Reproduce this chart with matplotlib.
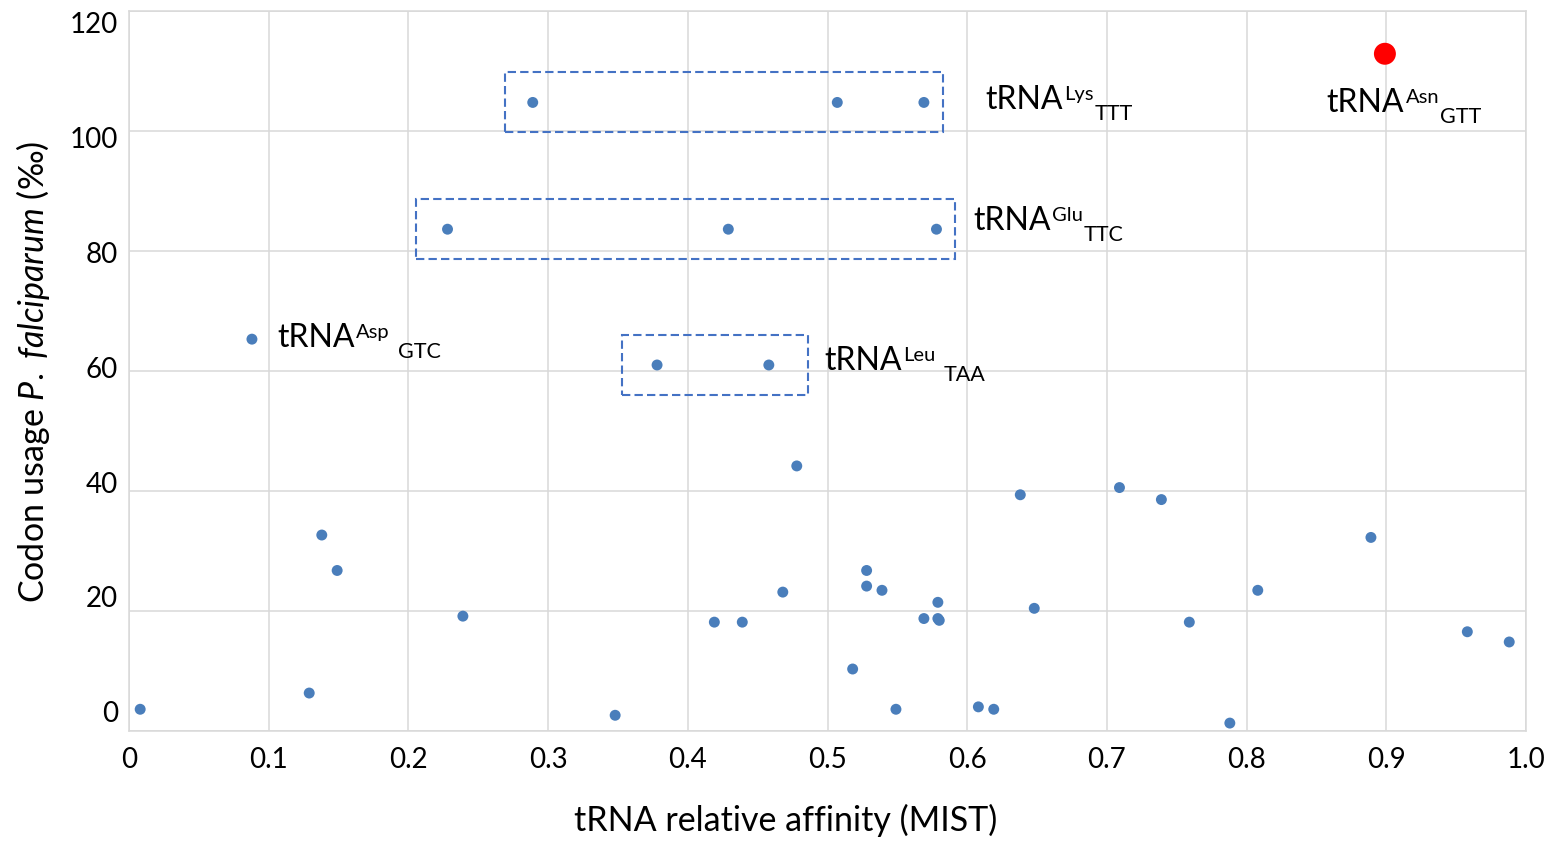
import matplotlib
matplotlib.use("Agg")
import matplotlib.pyplot as plt
from matplotlib.patches import Rectangle

plt.rcParams['font.family'] = ['Lato', 'DejaVu Sans']
plt.rcParams['mathtext.fontset'] = 'custom'
plt.rcParams['mathtext.rm'] = 'Lato'
plt.rcParams['mathtext.it'] = 'Lato:italic'

# ---- data ----
affinity = [0.008, 0.088, 0.129, 0.138, 0.149, 0.228, 0.239, 0.289, 0.348, 0.378,
            0.419, 0.429, 0.439, 0.458, 0.468, 0.478, 0.507, 0.518, 0.528, 0.528,
            0.539, 0.549, 0.569, 0.569, 0.578, 0.579, 0.579, 0.580, 0.608, 0.619,
            0.638, 0.648, 0.709, 0.739, 0.759, 0.788, 0.808, 0.889, 0.958, 0.988]
codon_usage = [3.7, 65.3, 6.4, 32.7, 26.8, 83.6, 19.2, 104.7, 2.7, 61.0,
               18.2, 83.6, 18.2, 61.0, 23.2, 44.2, 104.7, 10.4, 26.8, 24.2,
               23.5, 3.7, 104.7, 18.8, 83.6, 21.5, 18.8, 18.5, 4.1, 3.7,
               39.4, 20.5, 40.6, 38.6, 18.2, 1.4, 23.5, 32.3, 16.6, 14.9]
asn_affinity = [0.899]
asn_usage = [112.8]

# grouped tRNAs (affinity values of the boxed points, shared codon usage)
lys_aff = [0.289, 0.507, 0.569]
lys_use = 104.7
glu_aff = [0.228, 0.429, 0.578]
glu_use = 83.6
leu_aff = [0.378, 0.458]
leu_use = 61.0

x_ticks = [0, 0.1, 0.2, 0.3, 0.4, 0.5, 0.6, 0.7, 0.8, 0.9, 1.0]
x_tick_labels = ['0', '0.1', '0.2', '0.3', '0.4', '0.5', '0.6', '0.7', '0.8', '0.9', '1.0']
y_ticks = [0, 20, 40, 60, 80, 100, 120]

BLUE = '#4a7ebb'
GRID = '#d9d9d9'

fig = plt.figure(figsize=(15.55, 8.43), dpi=100)
ax = fig.add_axes([0.08296, 0.13227, 0.89839, 0.85527])
ax.set_xlim(0, 1.0)
ax.set_ylim(0, 120)
ax.set_xticks(x_ticks)
ax.set_xticklabels(x_tick_labels)
ax.set_yticks(y_ticks)
ax.grid(True, color=GRID, linewidth=1.1)
ax.set_axisbelow(True)
for sp in ax.spines.values():
    sp.set_color(GRID)
    sp.set_linewidth(1.1)
ax.tick_params(axis='x', length=0, labelsize=20, pad=11)
ax.tick_params(axis='y', length=0, labelleft=False)

# y tick labels (placed on a label axis as in the reference)
lab_ax = ax.twinx()
lab_ax.yaxis.tick_left()
lab_ax.set_ylim(-3.45, 122.14)
lab_ax.set_yticks(y_ticks)
lab_ax.set_yticklabels([str(v) for v in y_ticks])
lab_ax.tick_params(axis='y', length=0, labelsize=20, pad=8)
for sp in lab_ax.spines.values():
    sp.set_visible(False)
lab_ax.patch.set_visible(False)

# points
ax.scatter(affinity, codon_usage, s=62, color=BLUE, edgecolors='none', zorder=4)
ax.scatter(asn_affinity, asn_usage, s=250, color='#ff0000', edgecolors='none', zorder=4)

# dashed boxes around groups
def group_box(xs, y, padl, padr, pady=5.0):
    x0 = min(xs) - padl
    x1 = max(xs) + padr
    r = Rectangle((x0, y - pady), x1 - x0, 2 * pady, fill=False,
                  edgecolor='#4472c4', linewidth=1.5, linestyle=(0, (4, 2)), zorder=3)
    ax.add_patch(r)

group_box(lys_aff, lys_use, 0.0196, 0.014)
group_box(glu_aff, glu_use, 0.0225, 0.0133)
group_box(leu_aff, leu_use, 0.025, 0.028)

# labels tRNA^sup_sub
def trna_label(x, y, sup, sub, gap=0.5):
    t = ax.text(x, y, 'tRNA', fontsize=23, va='baseline', ha='left', zorder=5)
    s = ax.annotate(sup, xy=(1, y), xycoords=(t, 'data'), xytext=(1.2, 6.5),
                    textcoords='offset points', fontsize=14.5, va='baseline', ha='left')
    ax.annotate(sub, xy=(1, y), xycoords=(s, 'data'), xytext=(gap, -7.8),
                textcoords='offset points', fontsize=15.5, va='baseline', ha='left')

trna_label(0.6128, 103.6, 'Lys', 'TTT')
trna_label(0.6042, 83.5, 'Glu', 'TTC')
trna_label(0.1059, 64.0, 'Asp', 'GTC', gap=6)
trna_label(0.4975, 60.2, 'Leu', 'TAA', gap=6)
trna_label(0.8574, 103.1, 'Asn', 'GTT')

ax.set_xlabel('tRNA relative affinity (MIST)', fontsize=24.5, va='center')
ax.xaxis.set_label_coords(0.470, -0.1234)
ax.set_ylabel(r'Codon usage $\mathit{P.\ falciparum}$ (‰)', fontsize=24.5, va='center')
ax.yaxis.set_label_coords(-0.0687, 0.4986)

fig.savefig('out.png', dpi=100)
